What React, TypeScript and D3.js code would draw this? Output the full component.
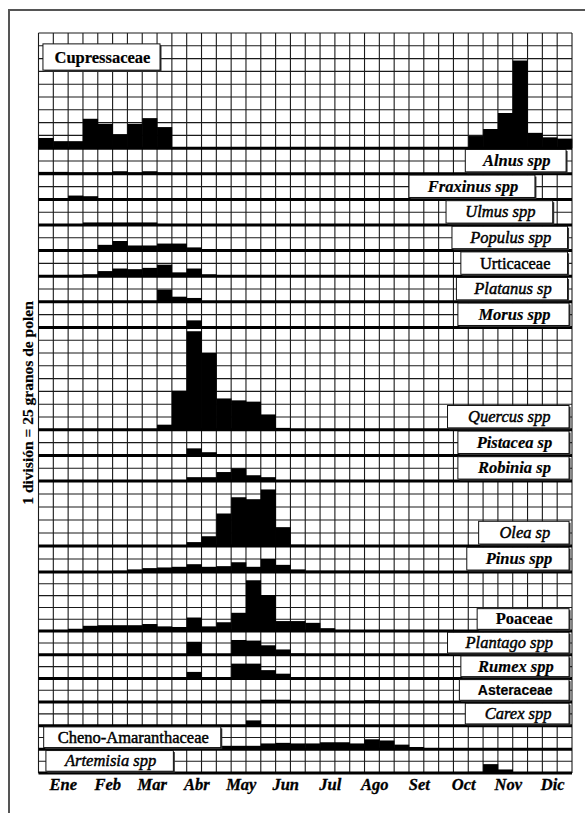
import * as d3 from "d3";

// months along the bottom, 3 ten-day periods each
const months = ["Ene", "Feb", "Mar", "Abr", "May", "Jun", "Jul", "Ago", "Set", "Oct", "Nov", "Dic"];

const taxa = [
  "Cupressaceae", "Alnus spp", "Fraxinus spp", "Ulmus spp", "Populus spp",
  "Urticaceae", "Platanus sp", "Morus spp", "Quercus spp", "Pistacea sp",
  "Robinia sp", "Olea sp", "Pinus spp", "Poaceae", "Plantago spp",
  "Rumex spp", "Asteraceae", "Carex spp", "Cheno-Amaranthaceae", "Artemisia spp",
];

// grid row where each taxon sits (1 row = 1 division = 25 grains)
const baselineRows = [9, 11, 13, 15, 17, 19, 21, 23, 31, 33, 35, 40, 42, 47, 49, 51, 53, 55, 57, 59];

// values in divisions, 36 ten-day periods
const cupressaceae = [0.8, 0.55, 0.55, 2.3, 1.9, 1.1, 1.9, 2.35, 1.65, 0, 0, 0, 0, 0, 0, 0, 0, 0, 0, 0, 0, 0, 0, 0, 0, 0, 0, 0, 0, 0.95, 1.5, 2.75, 6.85, 1.2, 0.85, 0.75];
const alnus = [0.15, 0.15, 0.1, 0.1, 0.1, 0.2, 0.1, 0.2, 0.1, 0, 0, 0, 0, 0, 0, 0, 0, 0, 0, 0, 0, 0, 0, 0, 0, 0, 0, 0, 0, 0, 0, 0, 0, 0, 0, 0];
const fraxinus = [0.1, 0.1, 0.3, 0.25, 0, 0, 0, 0, 0, 0, 0, 0, 0, 0, 0, 0, 0, 0, 0, 0, 0, 0, 0, 0, 0, 0, 0, 0, 0, 0, 0, 0, 0, 0, 0, 0];
const ulmus = [0, 0, 0, 0.2, 0.2, 0.2, 0.2, 0.2, 0, 0, 0, 0, 0, 0, 0, 0, 0, 0, 0, 0, 0, 0, 0, 0, 0, 0, 0, 0, 0, 0, 0, 0, 0, 0, 0, 0];
const populus = [0, 0, 0, 0.1, 0.45, 0.75, 0.4, 0.4, 0.55, 0.55, 0.25, 0, 0, 0, 0, 0, 0, 0, 0, 0, 0, 0, 0, 0, 0, 0, 0, 0, 0, 0, 0, 0, 0, 0, 0, 0];
const urticaceae = [0, 0, 0.1, 0.15, 0.4, 0.6, 0.55, 0.65, 0.9, 0.3, 0.6, 0.15, 0, 0, 0, 0, 0, 0, 0, 0, 0, 0, 0, 0, 0, 0, 0, 0, 0, 0, 0, 0, 0, 0, 0, 0];
const platanus = [0, 0, 0, 0, 0, 0, 0, 0, 0.95, 0.4, 0.3, 0, 0, 0, 0, 0, 0, 0, 0, 0, 0, 0, 0, 0, 0, 0, 0, 0, 0, 0, 0, 0, 0, 0, 0, 0];
const morus = [0, 0, 0, 0, 0, 0, 0, 0, 0, 0, 0.55, 0, 0, 0, 0, 0, 0, 0, 0, 0, 0, 0, 0, 0, 0, 0, 0, 0, 0, 0, 0, 0, 0, 0, 0, 0];
const quercus = [0, 0, 0, 0, 0, 0, 0, 0, 0.4, 3.05, 7.7, 6.0, 2.45, 2.3, 2.2, 1.2, 0.15, 0, 0, 0, 0, 0, 0, 0, 0, 0, 0, 0, 0, 0, 0, 0, 0, 0, 0, 0];
const pistacea = [0, 0, 0, 0, 0, 0, 0, 0, 0, 0, 0.55, 0.25, 0, 0, 0, 0, 0, 0, 0, 0, 0, 0, 0, 0, 0, 0, 0, 0, 0, 0, 0, 0, 0, 0, 0, 0];
const robinia = [0, 0, 0, 0, 0, 0, 0, 0, 0, 0, 0.3, 0.3, 0.7, 1.0, 0.45, 0.3, 0, 0, 0, 0, 0, 0, 0, 0, 0, 0, 0, 0, 0, 0, 0, 0, 0, 0, 0, 0];
const olea = [0, 0, 0, 0, 0, 0, 0, 0, 0, 0, 0.3, 0.75, 2.5, 3.75, 3.6, 4.35, 1.45, 0.1, 0, 0, 0, 0, 0, 0, 0, 0, 0, 0, 0, 0, 0, 0, 0, 0, 0, 0];
const pinus = [0, 0, 0, 0, 0, 0.1, 0.2, 0.3, 0.35, 0.4, 0.6, 0.4, 0.45, 0.75, 0.4, 1.0, 0.55, 0.2, 0.1, 0.1, 0.1, 0.1, 0.1, 0.1, 0.1, 0, 0, 0, 0, 0, 0, 0, 0, 0, 0, 0];
const poaceae = [0, 0, 0.2, 0.45, 0.5, 0.5, 0.5, 0.6, 0.4, 0.35, 1.15, 0.4, 0.75, 1.55, 4.3, 3.05, 0.85, 0.85, 0.7, 0.25, 0.1, 0, 0, 0, 0, 0, 0, 0, 0, 0, 0, 0, 0, 0, 0, 0];
const plantago = [0, 0, 0, 0, 0, 0, 0, 0, 0, 0, 1.1, 0, 0, 1.25, 1.2, 0.8, 0.45, 0.1, 0, 0, 0, 0, 0, 0, 0, 0, 0, 0, 0, 0, 0, 0, 0, 0, 0, 0];
const rumex = [0, 0, 0, 0, 0, 0, 0, 0, 0, 0, 0.55, 0, 0, 1.25, 1.25, 0.7, 0.4, 0, 0, 0, 0, 0, 0, 0, 0, 0, 0, 0, 0, 0, 0, 0, 0, 0, 0, 0];
const asteraceae = [0, 0, 0, 0, 0, 0, 0, 0, 0, 0, 0, 0, 0, 0, 0, 0.2, 0.2, 0, 0, 0, 0, 0, 0.15, 0, 0, 0, 0, 0, 0, 0, 0, 0, 0, 0, 0, 0];
const carex = [0, 0, 0, 0, 0, 0, 0, 0, 0, 0, 0, 0, 0, 0, 0.45, 0.1, 0, 0, 0, 0, 0, 0, 0, 0, 0, 0, 0, 0, 0, 0, 0, 0, 0, 0, 0, 0];
const chenoAmaranthaceae = [0, 0, 0, 0, 0, 0, 0, 0, 0, 0, 0, 0, 0.3, 0.3, 0.3, 0.5, 0.55, 0.5, 0.5, 0.6, 0.6, 0.5, 0.85, 0.75, 0.4, 0.2, 0.1, 0, 0, 0, 0, 0, 0, 0, 0, 0];
const artemisia = [0, 0, 0, 0, 0, 0, 0, 0, 0, 0, 0, 0, 0, 0, 0, 0, 0, 0, 0, 0, 0, 0, 0, 0, 0, 0, 0, 0, 0, 0.1, 0.75, 0.3, 0, 0, 0, 0];

const series = [
  cupressaceae, alnus, fraxinus, ulmus, populus, urticaceae, platanus, morus,
  quercus, pistacea, robinia, olea, pinus, poaceae, plantago, rumex,
  asteraceae, carex, chenoAmaranthaceae, artemisia,
];

// label boxes: column span and text style (i = italic, b = bold, s = sans)
const labelLayout = [
  { c0: 0.3, c1: 8.2, r0: 0.85, r1: 2.9, f: "b" },
  { c0: 28.8, c1: 35.6, f: "ib" },
  { c0: 25.0, c1: 33.5, f: "ib" },
  { c0: 27.5, c1: 34.7, f: "i" },
  { c0: 27.9, c1: 35.7, f: "i" },
  { c0: 28.5, c1: 35.7, f: "" },
  { c0: 28.2, c1: 35.7, f: "i" },
  { c0: 28.3, c1: 35.8, f: "ib" },
  { c0: 27.6, c1: 35.8, f: "i" },
  { c0: 28.3, c1: 35.8, f: "ib" },
  { c0: 28.3, c1: 35.8, f: "ib" },
  { c0: 29.7, c1: 35.8, f: "i" },
  { c0: 28.9, c1: 35.8, f: "ib" },
  { c0: 29.6, c1: 35.8, f: "b" },
  { c0: 27.6, c1: 35.8, f: "i" },
  { c0: 28.5, c1: 35.8, f: "ib" },
  { c0: 28.4, c1: 35.8, f: "sb" },
  { c0: 28.8, c1: 35.8, f: "i" },
  { c0: 0.35, c1: 12.3, f: "" },
  { c0: 0.5, c1: 9.1, f: "i" },
];

const width = 585;
const height = 813;
const nCols = 36;
const nRows = 59;
const serif = "'Liberation Serif', 'Times New Roman', serif";

export default function App() {
  const x = d3.scaleLinear().domain([0, nCols]).range([38.5, 572]);
  // the scanned grid is slightly stretched in its upper half
  const y = d3.scaleLinear().domain([0, 35, 42, nRows]).range([33, 481, 572, 773]);
  const monthX = d3.scaleBand().domain(months).range([41, 575]);

  const cols = d3.range(nCols + 1);
  const rows = d3.range(nRows + 1);

  return (
    <svg
      width={width}
      height={height}
      style={{ position: "absolute", left: 0, top: 0, background: "#fff" }}
    >
      <rect x={9} y={10} width={700} height={900} fill="none" stroke="#555" strokeWidth={2} />

      {/* grid */}
      <g stroke="#1a1a1a" strokeWidth={1.1}>
        {cols.map((c) => (
          <line key={"v" + c} x1={x(c)} x2={x(c)} y1={y(0)} y2={y(nRows)} />
        ))}
        {rows.map((r) => (
          <line key={"h" + r} x1={x(0)} x2={x(nCols)} y1={y(r)} y2={y(r)} />
        ))}
      </g>

      {/* bars */}
      <g fill="#000">
        {series.map((vals, i) =>
          vals.map((v, c) =>
            v > 0 ? (
              <rect
                key={i + "-" + c}
                x={x(c)}
                width={x(c + 1) - x(c) + 0.3}
                y={y(baselineRows[i] - v)}
                height={y(baselineRows[i]) - y(baselineRows[i] - v)}
              />
            ) : null
          )
        )}
      </g>

      {/* baselines */}
      <g stroke="#000" strokeWidth={3}>
        {baselineRows.map((r, i) => (
          <line key={"b" + i} x1={x(0)} x2={x(nCols)} y1={y(r)} y2={y(r)} />
        ))}
      </g>

      {/* labels */}
      {taxa.map((name, i) => {
        const l = labelLayout[i];
        const r0 = l.r0 !== undefined ? l.r0 : baselineRows[i] - 1.9;
        const r1 = l.r1 !== undefined ? l.r1 : baselineRows[i] - 0.15;
        const bx = x(l.c0);
        const bw = x(l.c1) - x(l.c0);
        const by = y(r0);
        const bh = y(r1) - y(r0);
        const sans = l.f.includes("s");
        const bold = l.f.includes("b");
        return (
          <g key={"l" + i}>
            <rect x={bx + 1.5} y={by + 1.5} width={bw} height={bh} fill="#333" />
            <rect x={bx} y={by} width={bw} height={bh} fill="#fff" stroke="#111" strokeWidth={1} />
            <text
              x={bx + bw / 2 + 1}
              y={by + bh / 2 + 5.5}
              textAnchor="middle"
              fontFamily={sans ? "'Liberation Sans', Arial, sans-serif" : serif}
              fontStyle={l.f.includes("i") ? "italic" : "normal"}
              fontWeight={bold ? "bold" : "normal"}
              fontSize={sans ? 14 : 16.5}
              stroke="#000"
              strokeWidth={bold ? 0.2 : 0.45}
              fill="#000"
            >
              {name}
            </text>
          </g>
        );
      })}

      {/* month labels */}
      {months.map((m) => (
        <text
          key={m}
          x={(monthX(m) as number) + monthX.bandwidth() / 2}
          y={790}
          textAnchor="middle"
          fontFamily={serif}
          fontStyle="italic"
          fontWeight="bold"
          fontSize={16.5}
          stroke="#000"
          strokeWidth={0.3}
        >
          {m}
        </text>
      ))}

      <text
        transform={`translate(33,${(y(0) + y(nRows)) / 2}) rotate(-90)`}
        textAnchor="middle"
        fontFamily={serif}
        fontWeight="bold"
        fontSize={15.5}
        stroke="#000"
        strokeWidth={0.2}
      >
        1 división = 25 granos de polen
      </text>
    </svg>
  );
}
